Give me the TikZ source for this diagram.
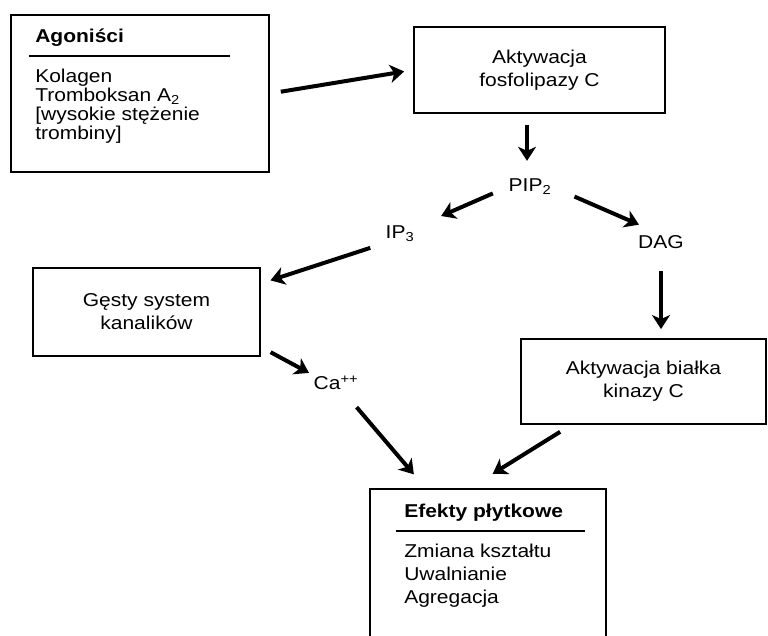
\documentclass[tikz,border=0pt]{standalone}
\usepackage{fontspec}
\setmainfont{Liberation Sans}[FakeStretch=1.13]
\usetikzlibrary{arrows.meta}

\begin{document}
\begin{tikzpicture}[
  x=1pt,
  y=-1pt,
  font=\fontsize{18.6}{23}\selectfont,
  box/.style={draw, line width=1.9pt, inner sep=0pt, align=center},
  lbl/.style={inner sep=1pt},
  head/.style={inner sep=0pt, anchor=base west, font=\fontsize{18.6}{23}\selectfont\bfseries},
  items/.style={inner sep=0pt, anchor=north west, align=left},
  rulebar/.style={line width=1.3pt},
  flow/.style={-{Stealth[length=14pt,width=18pt,inset=4pt]}, line width=4pt}
]
\useasboundingbox (0,0) rectangle (768,635);
\clip (0,0) rectangle (768,635);
% boxes
\node[box, minimum width=258pt, minimum height=157pt] (agon) at (140,93.5) {};
\node[box, minimum width=251pt, minimum height=86pt] (fosfo) at (539.5,70) {Aktywacja\\fosfolipazy C};
\node[box, minimum width=227pt, minimum height=88pt] (gesty) at (146.5,312) {Gęsty system\\kanalików};
\node[box, minimum width=245pt, minimum height=85pt] (kin) at (643.5,381.5) {Aktywacja białka\\kinazy C};
\node[box, minimum width=236pt, minimum height=170pt] (efekt) at (488,574) {};
% box contents
\node[head] (agonhead) at ([xshift=25pt,yshift=-28.3pt]agon.north west) {Agoniści};
\draw[rulebar] ([xshift=19pt,yshift=-42pt]agon.north west) -- ([xshift=220pt,yshift=-42pt]agon.north west);
\node[items, font=\fontsize{18.6}{19.2}\selectfont] (agonlist) at ([xshift=25pt,yshift=-54.4pt]agon.north west)
  {Kolagen\\Tromboksan A\smash{\textsubscript{2}}\\{[}wysokie stężenie\\trombiny]};
\node[head] (efekthead) at ([xshift=35pt,yshift=-29pt]efekt.north west) {Efekty płytkowe};
\draw[rulebar] ([xshift=27pt,yshift=-43pt]efekt.north west) -- ([xshift=216pt,yshift=-43pt]efekt.north west);
\node[items, font=\fontsize{18.6}{23.3}\selectfont] (efektlist) at ([xshift=35pt,yshift=-55.4pt]efekt.north west)
  {Zmiana kształtu\\Uwalnianie\\Agregacja};
% free labels
\node[lbl] (pip) at (530,187) {PIP\textsubscript{2}};
\node[lbl] (ip3) at (400,234) {IP\textsubscript{3}};
\node[lbl] (dag) at (661,242) {DAG};
\node[lbl] (ca) at (336,383) {Ca\textsuperscript{++}};
% connectors
\draw[flow, shorten <=11pt, shorten >=9pt] (agon.east) -- (fosfo.west);
\draw[flow, shorten <=11pt, shorten >=17pt] ([xshift=-3pt]fosfo.south -| pip) -- ([xshift=-3pt]pip.north);
\draw[flow, shorten <=16pt, shorten >=28pt] (pip.west) -- (ip3);
\draw[flow, shorten <=24pt, shorten >=24pt] (pip.east) -- (dag.north);
\draw[flow, shorten <=15pt, shorten >=10pt] (ip3.south west) -- (gesty.14);
\draw[flow, shorten <=21pt, shorten >=9pt] (dag) -- (dag |- kin.north);
\draw[flow, shorten <=11pt, shorten >=4pt] (gesty.-17) -- (ca.north west);
\draw[flow, shorten <=21pt, shorten >=18pt] (ca) -- (efekt.126);
\draw[flow, shorten <=13pt, shorten >=27pt] (kin.211) -- (efekt.102);
\end{tikzpicture}
\end{document}
